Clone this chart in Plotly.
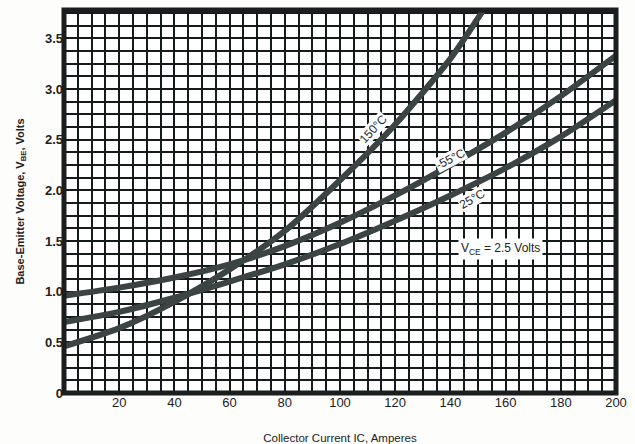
import plotly.graph_objects as go

# Collector current (A) sample points and VBE (V) for each temperature
ic_m55 = [0, 20, 40, 60, 80, 100, 120, 140, 160, 180, 200]
vbe_m55 = [0.96, 1.04, 1.14, 1.27, 1.45, 1.68, 1.95, 2.25, 2.57, 2.93, 3.33]

ic_25 = [0, 20, 40, 60, 80, 100, 120, 140, 160, 180, 200]
vbe_25 = [0.70, 0.80, 0.94, 1.10, 1.27, 1.47, 1.70, 1.95, 2.22, 2.53, 2.89]

ic_150 = [0, 20, 40, 60, 80, 100, 120, 140, 150, 156]
vbe_150 = [0.46, 0.64, 0.90, 1.22, 1.60, 2.10, 2.65, 3.30, 3.70, 3.95]

x_ticks = [20, 40, 60, 80, 100, 120, 140, 160, 180, 200]
x_tick_text = ["20", "40", "60", "80", "100", "120", "140", "160", "180", "200"]
y_ticks = [0, 0.5, 1.0, 1.5, 2.0, 2.5, 3.0, 3.5]
y_tick_text = ["0", "0.5", "1.0", "1.5", "2.0", "2.5", "3.0", "3.5"]

curve_color = "#3c4343"
grid_color = "#161a1a"

fig = go.Figure()
for xs, ys, name in [(ic_m55, vbe_m55, "-55°C"), (ic_25, vbe_25, "25°C"), (ic_150, vbe_150, "150°C")]:
    fig.add_trace(go.Scatter(x=xs, y=ys, mode="lines", name=name,
                             line=dict(color=curve_color, width=6, shape="spline", smoothing=0.7),
                             showlegend=False, hoverinfo="skip"))

font_main = "Liberation Sans, Arial, sans-serif"

fig.update_layout(
    width=635, height=444,
    margin=dict(l=64, r=19, t=10, b=51, autoexpand=False),
    paper_bgcolor="#fdfdfb", plot_bgcolor="#ffffff",
    font=dict(family=font_main, color="#1e2222"),
    xaxis=dict(range=[0, 200], tickvals=x_ticks, ticktext=x_tick_text, automargin=False,
               showgrid=True, gridcolor=grid_color, gridwidth=2,
               minor=dict(dtick=5, tick0=0, showgrid=True, gridcolor=grid_color, gridwidth=2),
               zeroline=False, showline=False, ticks="",
               tickfont=dict(size=13, family=font_main, color="#1e2222"),
               title=dict(text="Collector Current IC, Amperes", font=dict(size=11.5, family=font_main), standoff=28)),
    yaxis=dict(range=[0, 3.78], tickvals=y_ticks, ticktext=y_tick_text, automargin=False,
               showgrid=True, gridcolor=grid_color, gridwidth=2,
               minor=dict(dtick=0.125, tick0=0, showgrid=True, gridcolor=grid_color, gridwidth=2),
               zeroline=False, showline=False, ticks="",
               tickfont=dict(size=13, family="Liberation Sans, Arial", color="#1e2222", weight="bold"),
               title=dict(text="Base-Emitter Voltage, V<sub>BE</sub>, Volts",
                          font=dict(size=11, family=font_main, weight="bold"), standoff=18)),
    shapes=[dict(type="rect", xref="paper", yref="paper", x0=0, x1=1, y0=0, y1=1,
                 line=dict(color="#1a1e1e", width=5), fillcolor="rgba(0,0,0,0)", layer="above")],
    annotations=[
        dict(x=112, y=2.61, text="150°C", showarrow=False, textangle=-47,
             font=dict(size=12, family=font_main, color="#1e2222"), bgcolor="#ffffff", borderpad=0),
        dict(x=140, y=2.31, text="-55°C", showarrow=False, textangle=-27,
             font=dict(size=12, family=font_main, color="#1e2222"), bgcolor="#ffffff", borderpad=0),
        dict(x=148, y=1.91, text="25°C", showarrow=False, textangle=-30,
             font=dict(size=12, family=font_main, color="#1e2222"), bgcolor="#ffffff", borderpad=0),
        dict(x=158, y=1.42, text="V<sub>CE</sub> = 2.5 Volts", showarrow=False,
             font=dict(size=12, family=font_main, color="#1e2222"), bgcolor="#ffffff", borderpad=2),
    ],
)

fig.write_html("out.html", config={"displayModeBar": False},
               post_script="document.body.style.margin='0';document.body.style.overflow='hidden';")
